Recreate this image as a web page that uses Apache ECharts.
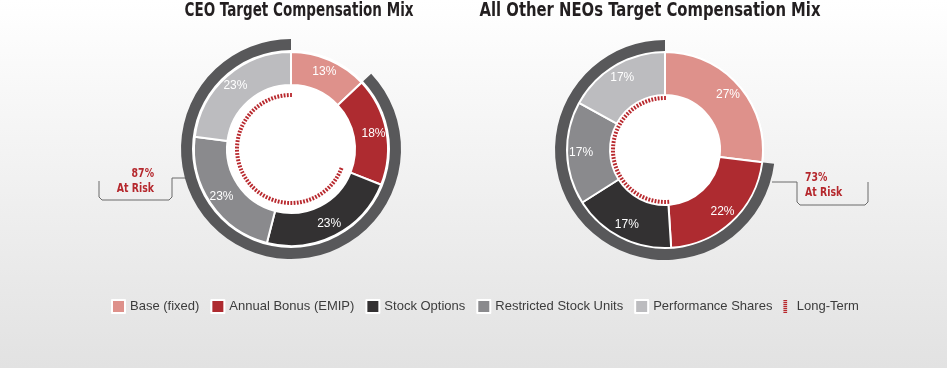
<!DOCTYPE html>
<html>
<head>
<meta charset="utf-8">
<script src="https://cdn.jsdelivr.net/npm/echarts@6/dist/echarts.min.js"></script>
<style>html,body{margin:0;padding:0;}#c{width:947px;height:368px;}</style>
</head>
<body>
<div id="c"></div>
<script>
// ---- data ----
const categories = ['Base (fixed)', 'Annual Bonus (EMIP)', 'Stock Options', 'Restricted Stock Units', 'Performance Shares'];
const ceoValues = [13, 18, 23, 23, 23];
const neoValues = [27, 22, 17, 17, 17];
const ceoAtRisk = 87;
const neoAtRisk = 73;
const longTermName = 'Long-Term';
const chartTitles = ['CEO Target Compensation Mix', 'All Other NEOs Target Compensation Mix'];
const atRiskLabel = 'At Risk';

// ---- styles / layout ----
const colors = ['#de918b', '#ae2b30', '#333132', '#8a8a8d', '#bcbcbf'];
const ringColor = '#58585a';
const dashColor = '#b8282d';
const calloutColor = '#b5282d';
const lineColor = '#6a6a6a';
const cond = "'DejaVu Sans Condensed', 'DejaVu Sans', sans-serif";
const sans = "'Liberation Sans', Arial, sans-serif";

const charts = [
  { values: ceoValues, atRisk: ceoAtRisk, center: [291, 149], inner: 64, outer: 97, dashR: 56,
    titleX: 299, titleW: 229,
    callout: { pts: [[186,178],[172,178],[172,197],[169,200],[102,200],[99,197],[99,181]], tx: 154, align: 'right' } },
  { values: neoValues, atRisk: neoAtRisk, center: [665, 150], inner: 55, outer: 98, dashR: 54,
    titleX: 650, titleW: 341,
    callout: { pts: [[772,182],[797,182],[797,202],[800,205],[865,205],[868,202],[868,182]], tx: 805, align: 'left' } }
];
const ringInner = 99, ringOuter = 110;
const dashLen = 4, dashSpacing = 3.2;
const titleFont = 'bold 19px ' + cond;
const calloutFont = 'bold 13px ' + cond;

const measureCtx = document.createElement('canvas').getContext('2d');
function textWidth(t, font) { measureCtx.font = font; return measureCtx.measureText(t).width; }

const series = [];
const graphic = [];
charts.forEach((ch, idx) => {
  const c = ch.center;
  series.push({
    type: 'pie', silent: true, animation: false, center: c, radius: [0, ringInner], z: 0,
    label: { show: false }, labelLine: { show: false },
    data: [{ value: 1, name: '_bg' + idx, itemStyle: { color: '#ffffff' } }]
  });
  series.push({
    type: 'pie', silent: true, animation: false, center: c, radius: [ch.inner, ch.outer], z: 2,
    startAngle: 90, clockwise: true,
    itemStyle: { borderColor: '#ffffff', borderWidth: 2 },
    label: { show: false }, labelLine: { show: false },
    data: categories.map((n, i) => ({ name: n, value: ch.values[i], itemStyle: { color: colors[i] } }))
  });
  series.push({
    type: 'pie', silent: true, animation: false, center: c, radius: [64, 98], z: 3,
    startAngle: 90, clockwise: true,
    itemStyle: { color: 'rgba(0,0,0,0)' },
    label: { show: true, position: 'inside', formatter: '{c}%', color: '#ffffff', fontSize: 12, fontFamily: sans },
    labelLine: { show: false },
    data: categories.map((n, i) => ({ name: n, value: ch.values[i] }))
  });
  series.push({
    type: 'pie', silent: true, animation: false, center: c, radius: [ringInner, ringOuter], z: 2,
    startAngle: 90, clockwise: true,
    label: { show: false }, labelLine: { show: false },
    data: [
      { name: '_fixed' + idx, value: 100 - ch.atRisk, itemStyle: { color: 'rgba(0,0,0,0)' } },
      { name: '_risk' + idx, value: ch.atRisk, itemStyle: { color: ringColor } }
    ]
  });
  const lt = ch.values[2] + ch.values[3] + ch.values[4];
  const arcDeg = lt * 3.6;
  const n = Math.round(arcDeg * Math.PI / 180 * (ch.dashR - dashLen / 2) / dashSpacing);
  series.push({
    type: 'gauge', name: longTermName, silent: true, animation: false, center: c, radius: ch.dashR, z: 10,
    startAngle: 90 + arcDeg, endAngle: 90, min: 0, max: lt, splitNumber: n,
    axisLine: { show: false, lineStyle: { width: 0 } },
    pointer: { show: false },
    axisTick: { show: false }, axisLabel: { show: false },
    splitLine: { show: true, length: dashLen, distance: 0, lineStyle: { color: dashColor, width: 1.8 } },
    detail: { show: false }, title: { show: false },
    data: [{ value: 0 }]
  });
  // title
  const tw = textWidth(chartTitles[idx], titleFont);
  graphic.push({
    type: 'text', silent: true, x: ch.titleX, y: 11, scaleX: ch.titleW / tw,
    style: { text: chartTitles[idx], fill: '#231f20', font: titleFont, textAlign: 'center', textVerticalAlign: 'middle' }
  });
  // callout
  graphic.push({
    type: 'polyline', silent: true, shape: { points: ch.callout.pts },
    style: { stroke: lineColor, lineWidth: 1, fill: null }
  });
  graphic.push({
    type: 'text', silent: true, x: ch.callout.tx, y: ch.callout.pts[0][1] - 4, scaleX: 0.8,
    style: { text: ch.atRisk + '%', fill: calloutColor, font: calloutFont, textAlign: ch.callout.align, textVerticalAlign: 'middle' }
  });
  graphic.push({
    type: 'text', silent: true, x: ch.callout.tx, y: ch.callout.pts[0][1] + 11, scaleX: 0.8,
    style: { text: atRiskLabel, fill: calloutColor, font: calloutFont, textAlign: ch.callout.align, textVerticalAlign: 'middle' }
  });
});

const dashIcon = 'path://M0,0h4v1.3h-4z M0,2.1h4v1.3h-4z M0,4.2h4v1.3h-4z M0,6.3h4v1.3h-4z M0,8.4h4v1.3h-4z M0,10.5h4v1.3h-4z M0,12.6h4v1.3h-4z';

const option = {
  backgroundColor: { type: 'linear', x: 0, y: 0, x2: 0, y2: 1,
    colorStops: [{ offset: 0, color: '#ffffff' }, { offset: 1, color: '#e2e2e2' }] },
  animation: false,
  legend: {
    left: 111, top: 299, padding: 0, itemWidth: 13, itemHeight: 13, itemGap: 11,
    selectedMode: false,
    textStyle: { fontFamily: sans, fontSize: 13, color: '#3c3c3c' },
    data: categories.map((n, i) => ({ name: n, icon: 'rect', itemStyle: { color: colors[i] } }))
      .concat([{ name: longTermName, icon: dashIcon, itemStyle: { color: dashColor } }])
  },
  series: series,
  graphic: graphic
};

const chart = echarts.init(document.getElementById('c'), null, { renderer: 'canvas' });
chart.setOption(option);
</script>
</body>
</html>
